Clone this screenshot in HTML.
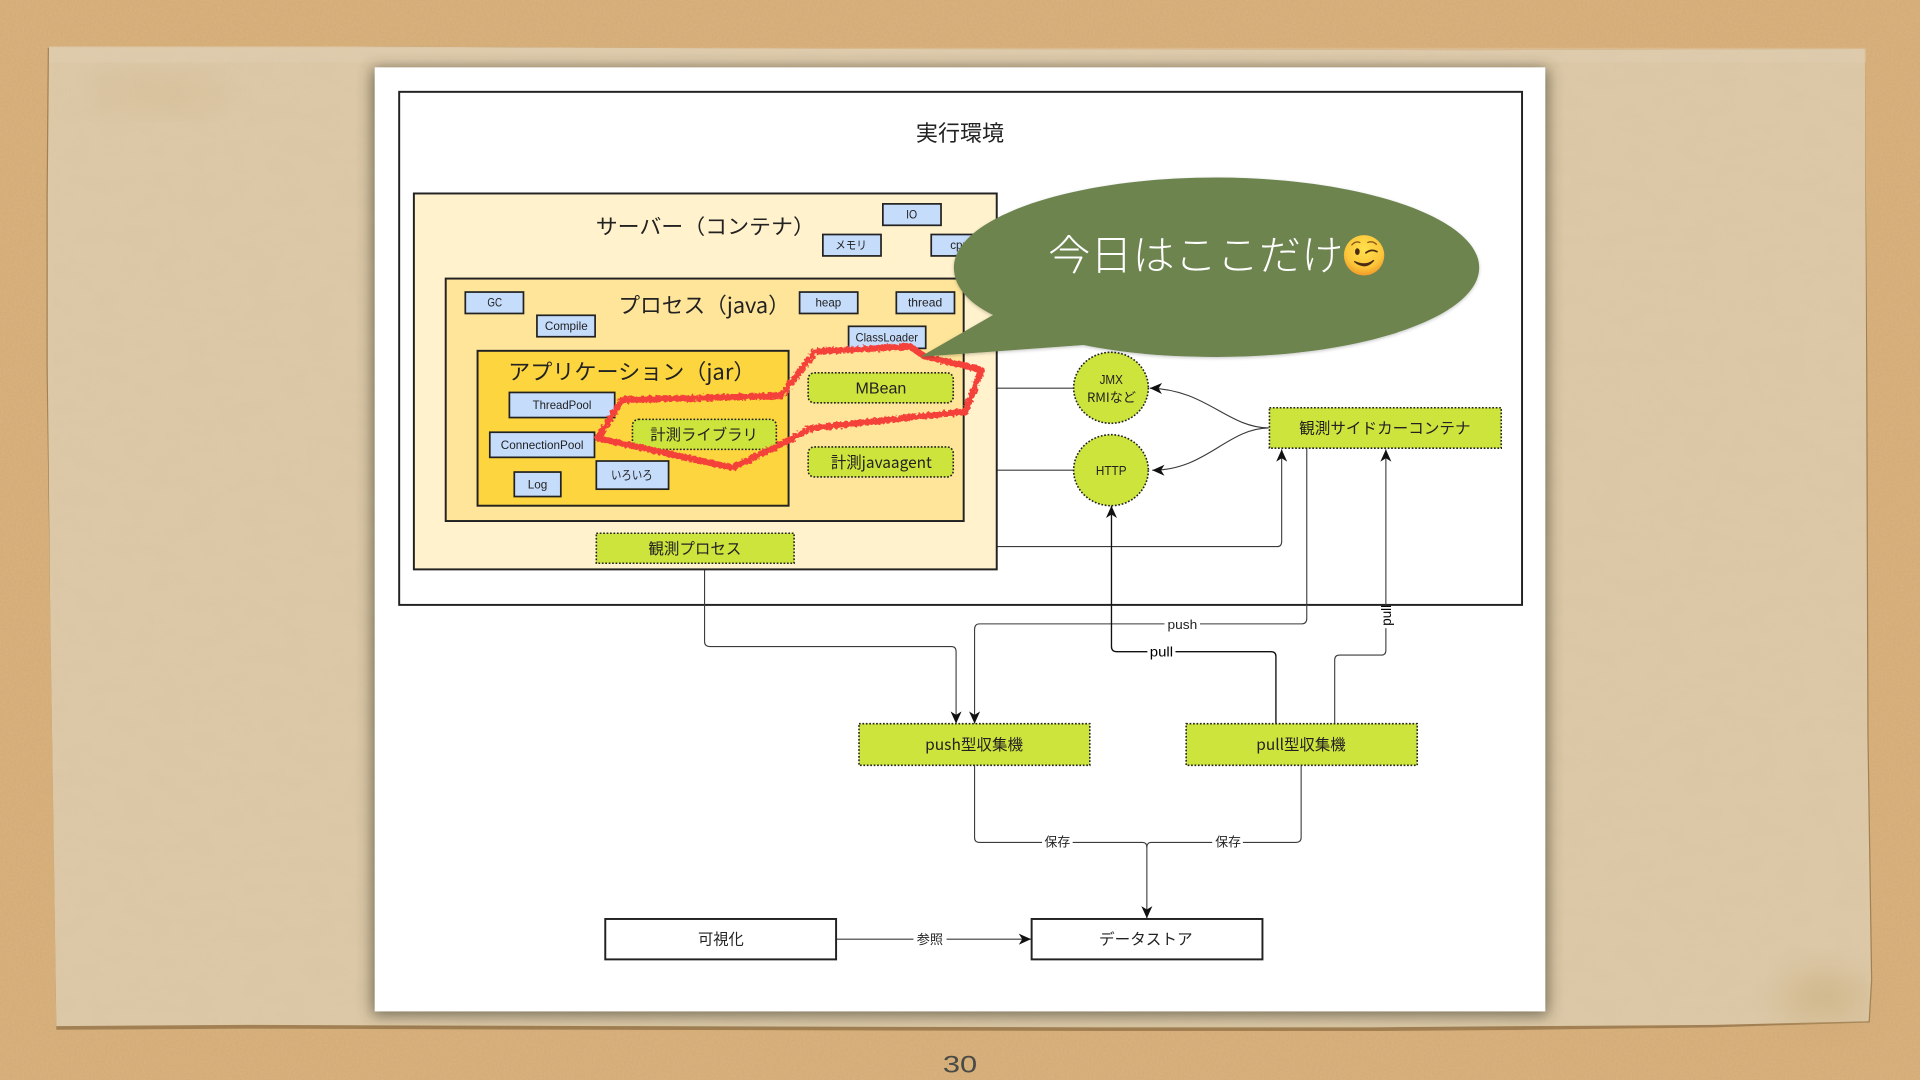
<!DOCTYPE html>
<html lang="ja"><head><meta charset="utf-8"><title>実行環境</title>
<style>
html,body{margin:0;padding:0;width:1920px;height:1080px;overflow:hidden;background:#d9b07b}
svg{display:block}
text{font-family:"Liberation Sans","Noto Sans CJK JP",sans-serif;fill:#222}
.j{font-family:"Noto Sans CJK JP","Liberation Sans",sans-serif}
.b{fill:#c6dcfb;stroke:#222;stroke-width:1.4}
.g{fill:#cde43c;stroke:#222;stroke-width:1.3;stroke-dasharray:1.4 1.4}
.l{fill:none;stroke:#3a3a3a;stroke-width:.9}
.w{fill:#fff;stroke:#222;stroke-width:1.6}
</style></head><body>
<svg width="1920" height="1080" viewBox="0 0 1568 882" xmlns="http://www.w3.org/2000/svg">
<defs>
<filter id="n" x="0" y="0" width="100%" height="100%"><feTurbulence type="fractalNoise" baseFrequency=".6" numOctaves="3" seed="4"/><feColorMatrix values="0 0 0 0 .5 0 0 0 0 .36 0 0 0 0 .18 0 0 0 .5 -.14"/></filter>
<filter id="n2" x="0" y="0" width="100%" height="100%"><feTurbulence type="fractalNoise" baseFrequency=".04 .07" numOctaves="3" seed="9"/><feColorMatrix values="0 0 0 0 .62 0 0 0 0 .5 0 0 0 0 .32 0 0 0 .4 -.13"/></filter>
<filter id="bl" x="-20%" y="-20%" width="140%" height="140%"><feGaussianBlur stdDeviation="6"/></filter>
<filter id="bl2" x="-50%" y="-50%" width="200%" height="200%"><feGaussianBlur stdDeviation="14"/></filter>
<filter id="rough" x="-5%" y="-10%" width="110%" height="120%"><feTurbulence type="fractalNoise" baseFrequency=".4" numOctaves="2" seed="3"/><feDisplacementMap in="SourceGraphic" scale="4"/></filter>
<filter id="sh" x="-10%" y="-10%" width="120%" height="120%"><feDropShadow dx="0" dy="1" stdDeviation="1.2" flood-color="#000" flood-opacity=".22"/></filter>
<radialGradient id="em" cx=".5" cy=".35" r=".7"><stop offset="0" stop-color="#ffe04d"/><stop offset=".65" stop-color="#fcc63a"/><stop offset="1" stop-color="#ef8f25"/></radialGradient>
<marker id="a" markerUnits="userSpaceOnUse" markerWidth="12" markerHeight="12" refX="10" refY="5" orient="auto"><path d="M0 .5L10 5L0 9.5L2.8 5Z" fill="#111"/></marker>
</defs>

<!-- background -->
<rect width="1568" height="882" fill="#d9b07b"/>
<rect width="1568" height="882" filter="url(#n)"/>
<polygon points="46,840 44,700 41,500 38,300 38,160 39,38 290,37 700,39 1200,40 1523,39 1525,300 1526,600 1529,800 1527,834 1400,838 1250,840 1120,841 900,841 500,840 200,839" fill="#7e6038" opacity=".6" transform="translate(0,1)"/>
<polygon points="46,838 44,700 41,500 39,300 39,160 40,38 290,38 700,40 1200,41 1523,40 1524,300 1525,600 1528,800 1526,834 1400,837 1250,838 1120,839 900,839 500,838 200,837" fill="#dcc8a7"/>
<rect x="44" y="42" width="1480" height="794" filter="url(#n2)" opacity=".55"/>
<ellipse cx="130" cy="76" rx="60" ry="12" fill="#c9ab78" opacity=".28" filter="url(#bl2)"/>
<ellipse cx="1490" cy="815" rx="36" ry="20" fill="#c4a56d" opacity=".45" filter="url(#bl2)"/>
<rect x="40" y="39" width="1484" height="12" fill="#e3d2b6" opacity=".35"/>

<!-- slide -->
<rect x="304" y="56" width="960" height="773" fill="#332" opacity=".62" filter="url(#bl)"/>
<rect x="306" y="55" width="956" height="771" fill="#fff"/>

<!-- outer -->
<rect x="326" y="75" width="917" height="419" fill="none" stroke="#222" stroke-width="1.6"/>
<text class="j" x="748" y="115" font-size="18" textLength="72" lengthAdjust="spacingAndGlyphs">実行環境</text>

<!-- connectors -->
<path class="l" d="M778 317H877"/>
<path class="l" d="M814 384H877"/>
<path class="l" d="M814 446.4H1043Q1046.7 446.4 1046.7 442V367" marker-end="url(#a)"/>
<path class="l" d="M1036 349.5C1002 349 985 318 939 317" marker-end="url(#a)"/>
<path class="l" d="M1036 349.5C1002 350 985 384 941 384" marker-end="url(#a)"/>
<path class="l" d="M1067.2 366V505Q1067.2 509.5 1063 509.5H800Q795.9 509.5 795.9 514V591" marker-end="url(#a)"/>
<path class="l" d="M575.4 460V524Q575.4 528 580 528H777Q780.8 528 780.8 532V591" marker-end="url(#a)"/>
<path class="l" style="stroke:#111;stroke-width:1.1" d="M1042 591V536Q1042 532.2 1038 532.2H912Q907.7 532.2 907.7 528V413" marker-end="url(#a)"/>
<path class="l" d="M1090 591V539Q1090 535 1094 535H1128Q1131.8 535 1131.8 531V367" marker-end="url(#a)"/>
<path class="l" d="M795.9 625V684Q795.9 688 800 688H933Q936.6 688 936.6 692V750" marker-end="url(#a)"/>
<path class="l" d="M1062.6 625V684Q1062.6 688 1058 688H940Q936.6 688 936.6 692"/>
<path class="l" d="M683 767H842" marker-end="url(#a)"/>

<!-- connector labels -->
<rect x="951" y="503" width="29" height="13" fill="#fff"/>
<text x="953.5" y="513.5" font-size="10.5" textLength="24.3" lengthAdjust="spacingAndGlyphs">push</text>
<rect x="937" y="526" width="23" height="13" fill="#fff"/>
<text x="939" y="536" font-size="11.5" textLength="19" lengthAdjust="spacingAndGlyphs" style="fill:#000">pull</text>
<rect x="1125" y="495" width="14" height="18" fill="#fff"/>
<text transform="translate(1136,511) rotate(-90)" font-size="11.5" textLength="17" lengthAdjust="spacingAndGlyphs" style="fill:#000">pull</text>
<rect x="851" y="681" width="25" height="13" fill="#fff"/>
<text class="j" x="853" y="691.5" font-size="10.5" textLength="21" lengthAdjust="spacingAndGlyphs">保存</text>
<rect x="990" y="681" width="25" height="13" fill="#fff"/>
<text class="j" x="992.5" y="691.5" font-size="10.5" textLength="21" lengthAdjust="spacingAndGlyphs">保存</text>
<rect x="746" y="760" width="27" height="14" fill="#fff"/>
<text class="j" x="748.7" y="771" font-size="10.5" textLength="21.5" lengthAdjust="spacingAndGlyphs">参照</text>

<!-- server -->
<rect x="338" y="158" width="476" height="307" fill="#fff2cc" stroke="#222" stroke-width="1.6"/>
<text class="j" x="486.5" y="191" font-size="17" textLength="179" lengthAdjust="spacingAndGlyphs">サーバー（コンテナ）</text>
<rect class="b" x="721" y="166.5" width="47.5" height="17.5"/><text x="740" y="178.5" font-size="9.5" textLength="9" lengthAdjust="spacingAndGlyphs">IO</text>
<rect class="b" x="672" y="191.5" width="47.5" height="17.5"/><text class="j" x="682" y="203.5" font-size="9.5" textLength="26" lengthAdjust="spacingAndGlyphs">メモリ</text>
<rect class="b" x="760.5" y="191.5" width="47.5" height="17.5"/><text x="776" y="203.5" font-size="9.5">cpu</text>

<!-- process -->
<rect x="364" y="227.5" width="423" height="198" fill="#ffe599" stroke="#222" stroke-width="1.6"/>
<text class="j" x="505" y="255.5" font-size="17.5" textLength="140" lengthAdjust="spacingAndGlyphs">プロセス（java）</text>
<rect class="b" x="380" y="238.5" width="47.5" height="17.5"/><text x="398" y="250.5" font-size="9.5" textLength="12" lengthAdjust="spacingAndGlyphs">GC</text>
<rect class="b" x="438.5" y="257.5" width="47.5" height="17.5"/><text x="445" y="269.5" font-size="9.5" textLength="35" lengthAdjust="spacingAndGlyphs">Compile</text>
<rect class="b" x="653" y="238.5" width="47.5" height="17.5"/><text x="666" y="250.5" font-size="9.5" textLength="21" lengthAdjust="spacingAndGlyphs">heap</text>
<rect class="b" x="732" y="238.5" width="47.5" height="17.5"/><text x="741.5" y="250.5" font-size="9.5" textLength="28" lengthAdjust="spacingAndGlyphs">thread</text>
<rect class="b" x="693" y="266.5" width="63" height="18"/><text x="698.7" y="279" font-size="9.5" textLength="51" lengthAdjust="spacingAndGlyphs">ClassLoader</text>

<!-- app -->
<rect x="390" y="286.5" width="254" height="126.5" fill="#fdd63f" stroke="#222" stroke-width="1.6"/>
<text class="j" x="415" y="310" font-size="17.5" textLength="202" lengthAdjust="spacingAndGlyphs">アプリケーション（jar）</text>
<rect class="b" x="416" y="320.5" width="86" height="20.5"/><text x="435" y="334" font-size="9.5" textLength="48" lengthAdjust="spacingAndGlyphs">ThreadPool</text>
<rect class="b" x="400" y="353" width="85.5" height="20.5"/><text x="409" y="366.5" font-size="9.5" textLength="67.5" lengthAdjust="spacingAndGlyphs">ConnectionPool</text>
<rect class="b" x="487" y="376.5" width="59" height="23"/><text class="j" x="499" y="391.5" font-size="10" textLength="34" lengthAdjust="spacingAndGlyphs">いろいろ</text>
<rect class="b" x="420" y="385.5" width="38" height="20"/><text x="431" y="399" font-size="10" textLength="16" lengthAdjust="spacingAndGlyphs">Log</text>

<rect class="g" x="516.5" y="342.5" width="117.5" height="24.5" rx="5"/>
<text class="j" x="531" y="359.5" font-size="12.5" textLength="88" lengthAdjust="spacingAndGlyphs">計測ライブラリ</text>
<rect class="g" x="660" y="304.5" width="118.5" height="24.5" rx="5"/>
<text x="698.7" y="321.5" font-size="13" textLength="41.5" lengthAdjust="spacingAndGlyphs">MBean</text>
<rect class="g" x="660" y="365" width="118.5" height="24.5" rx="5"/>
<text class="j" x="678.5" y="382" font-size="13" textLength="82.5" lengthAdjust="spacingAndGlyphs">計測javaagent</text>
<rect class="g" x="487" y="435.5" width="161.5" height="24.5"/>
<text class="j" x="529.5" y="452.5" font-size="12.5" textLength="76" lengthAdjust="spacingAndGlyphs">観測プロセス</text>

<!-- circles -->
<ellipse class="g" cx="907.3" cy="316.7" rx="30.5" ry="29"/>
<text x="898" y="313.5" font-size="10.5" textLength="19" lengthAdjust="spacingAndGlyphs">JMX</text>
<text class="j" x="887.7" y="328.5" font-size="10.5" textLength="40" lengthAdjust="spacingAndGlyphs">RMIなど</text>
<ellipse class="g" cx="907.3" cy="384" rx="30.5" ry="29"/>
<text x="895" y="388" font-size="10.5" textLength="25" lengthAdjust="spacingAndGlyphs">HTTP</text>

<!-- sidecar and collectors -->
<rect class="g" x="1036.7" y="333" width="189.3" height="33"/>
<text class="j" x="1061" y="354" font-size="12.5" textLength="140" lengthAdjust="spacingAndGlyphs">観測サイドカーコンテナ</text>
<rect class="g" x="701.5" y="591" width="188.5" height="34"/>
<text class="j" x="755.5" y="612.5" font-size="12.5" textLength="80" lengthAdjust="spacingAndGlyphs">push型収集機</text>
<rect class="g" x="968.7" y="591" width="188.7" height="34"/>
<text class="j" x="1026" y="612.5" font-size="12.5" textLength="73" lengthAdjust="spacingAndGlyphs">pull型収集機</text>
<rect class="w" x="494.3" y="750.5" width="188.5" height="33"/>
<text class="j" x="570" y="771.5" font-size="12.5" textLength="37.5" lengthAdjust="spacingAndGlyphs">可視化</text>
<rect class="w" x="842.5" y="750.5" width="188.5" height="33"/>
<text class="j" x="897.5" y="771.5" font-size="12.5" textLength="76.5" lengthAdjust="spacingAndGlyphs">データストア</text>

<!-- red outline -->
<polygon points="638.3,322.5 665.7,287.1 743.2,283 755,291 801.4,302.1 788.4,336.1 662.5,349.7 636.7,363.4 598,381.9 488.2,357.9 507.5,326.6 635,323.3" fill="none" stroke="#f4433a" stroke-width="5.2" stroke-linejoin="round" filter="url(#rough)"/>

<!-- bubble -->
<path filter="url(#sh)" d="M751.7 291.3L811 257.3C788 246 779 232 779 218.5C779 178 874 145 993.5 145C1112 145 1208 178 1208 218.5C1208 259 1112 291.5 993.5 291.5C950 291.5 915 288 885 281.8Z" fill="#6d844f"/>
<text class="j" x="856" y="220.5" font-size="34" font-weight="300" textLength="241" lengthAdjust="spacingAndGlyphs" style="fill:#fff">今日はここだけ</text>
<!-- wink emoji -->
<circle cx="1114" cy="208.5" r="16.5" fill="url(#em)"/>
<ellipse cx="1108.5" cy="205.5" rx="1.9" ry="2.8" fill="#4b2c12"/>
<path d="M1115.5 206.5Q1120 203 1124.5 205.5" fill="none" stroke="#4b2c12" stroke-width="1.4" stroke-linecap="round"/>
<path d="M1104 200Q1107 196.5 1110.5 198M1117 198Q1121 196.5 1124 199.5" fill="none" stroke="#8a5a1a" stroke-width="1.1" stroke-linecap="round"/>
<path d="M1106 213.5Q1115 221 1122 212.5Q1115 218 1106 213.5Z" fill="#4b2c12" stroke="#4b2c12" stroke-width="1"/>

<!-- page number -->
<text x="770" y="876" font-size="20" textLength="28" lengthAdjust="spacingAndGlyphs" style="fill:#4a4a46">30</text>
</svg>
</body></html>
